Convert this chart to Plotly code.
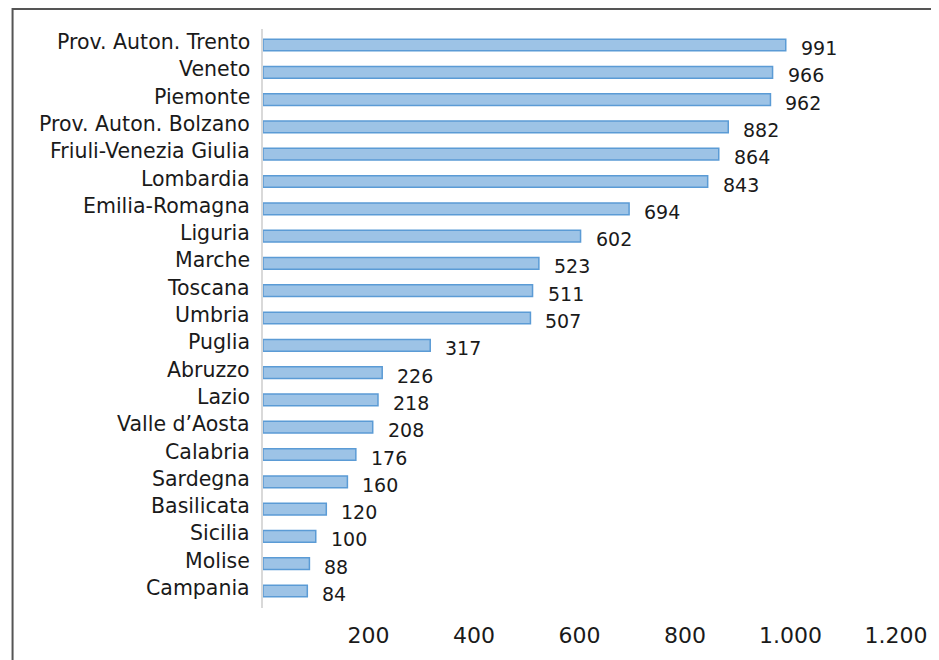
import plotly.graph_objects as go

regions = ['Prov. Auton. Trento', 'Veneto', 'Piemonte', 'Prov. Auton. Bolzano',
           'Friuli-Venezia Giulia', 'Lombardia', 'Emilia-Romagna', 'Liguria',
           'Marche', 'Toscana', 'Umbria', 'Puglia', 'Abruzzo', 'Lazio',
           "Valle d’Aosta", 'Calabria', 'Sardegna', 'Basilicata', 'Sicilia',
           'Molise', 'Campania']
values = [991, 966, 962, 882, 864, 843, 694, 602, 523, 511, 507, 317, 226, 218,
          208, 176, 160, 120, 100, 88, 84]
tick_vals = [200, 400, 600, 800, 1000, 1200]
tick_text = ['200', '400', '600', '800', '1.000', '1.200']

FONT = 'DejaVu Sans'
TXT = '#1a1a1a'

fig = go.Figure()
fig.add_trace(go.Bar(
    x=values, y=regions, orientation='h',
    marker=dict(color='#9dc3e6', line=dict(color='#5b9bd5', width=1.5)),
    hoverinfo='x+y',
))

for r, v in zip(regions, values):
    # value label, a bit right of and below the bar end
    fig.add_annotation(x=v, y=r, text=str(v), showarrow=False,
                       xanchor='left', yanchor='middle', xshift=13, yshift=-3,
                       font=dict(family=FONT, size=19, color=TXT))
    # category label, sits slightly above the bar centre
    fig.add_annotation(x=0, xref='paper', y=r, text=r, showarrow=False,
                       xanchor='right', yanchor='middle', xshift=-11, yshift=3,
                       font=dict(family=FONT, size=20.5, color=TXT))

# frame round the chart (right and bottom edges fall outside the page)
fig.add_shape(type='rect', xref='paper', yref='paper',
              x0=-254 / 642, x1=1.2, y0=-0.2, y1=1 + 20 / 582,
              line=dict(color='#555555', width=2), fillcolor='rgba(0,0,0,0)')

fig.update_layout(
    width=931, height=652,
    margin=dict(l=255, r=34, t=21, b=49),
    plot_bgcolor='white', paper_bgcolor='white',
    bargap=0.57,
    showlegend=False,
    font=dict(family=FONT, size=19, color=TXT),
)
fig.update_xaxes(range=[0, 1200], tickvals=tick_vals, ticktext=tick_text,
                 showgrid=False, zeroline=False, showline=False,
                 ticks='', ticklabelstandoff=12, tickfont=dict(size=22))
fig.update_yaxes(autorange='reversed', showgrid=False, showline=True,
                 linecolor='#d9d9d9', linewidth=1.5, ticks='',
                 showticklabels=False)

fig.write_html("out.html")
